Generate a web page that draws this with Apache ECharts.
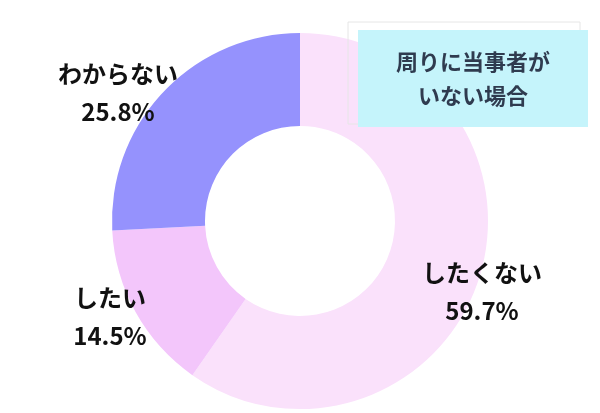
<!DOCTYPE html>
<html><head><meta charset="utf-8">
<script src="https://cdn.jsdelivr.net/npm/echarts@6/dist/echarts.min.js"></script>
<style>html,body{margin:0;background:#fff}#c{width:600px;height:413px}</style>
</head><body><div id="c"></div>
<script>
const categories = ['したくない', 'したい', 'わからない'];
const values = [59.7, 14.5, 25.8];
const colors = ['#fae1fb', '#f3c6fb', '#9592fd'];
const title = '周りに当事者が\nいない場合';
const labelPos = [[482, 292], [110, 317], [118, 93]];

const chart = echarts.init(document.getElementById('c'));
const font = '"Noto Sans CJK JP", sans-serif';
chart.setOption({
  animation: false,
  series: [{
    type: 'pie',
    center: [300, 221],
    radius: [95, 188],
    startAngle: 90,
    clockwise: true,
    label: { show: false },
    labelLine: { show: false },
    data: categories.map((c, i) => ({ name: c, value: values[i], itemStyle: { color: colors[i] } }))
  }],
  graphic: [
    { type: 'rect', z: 100, shape: { x: 348, y: 22, width: 232, height: 102 }, style: { fill: 'none', stroke: '#e6e6e6', lineWidth: 1 } },
    { type: 'rect', z: 100, shape: { x: 358, y: 30, width: 230, height: 97 }, style: { fill: '#c5f4fb' } },
    { type: 'text', z: 101, x: 473, y: 79, style: { text: title, font: 'bold 22px ' + font, fill: '#2f3b4f', align: 'center', verticalAlign: 'middle', lineHeight: 34 } }
  ].concat(categories.map((c, i) => ({
    type: 'text', z: 101, x: labelPos[i][0], y: labelPos[i][1],
    style: { text: c + '\n' + values[i].toFixed(1) + '%', font: 'bold 24px ' + font, fill: '#111', align: 'center', verticalAlign: 'middle', lineHeight: 38 }
  })))
});
</script></body></html>
